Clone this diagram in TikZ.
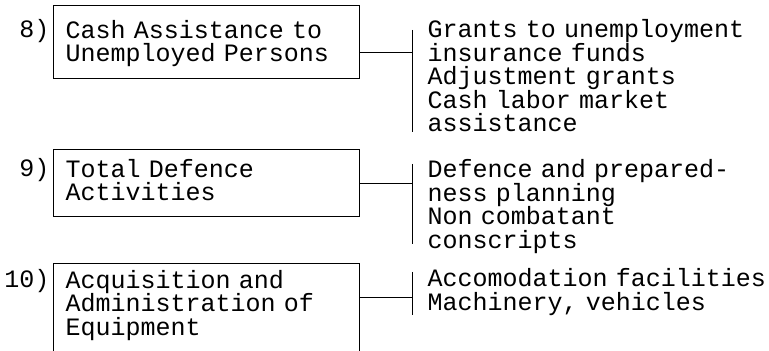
\documentclass[tikz,border=0pt]{standalone}
\usepackage{fontspec}
\setmonofont{Liberation Mono}[WordSpace={1,0,0}]
\usetikzlibrary{positioning,calc}

\begin{document}
\begin{tikzpicture}[x=0.5pt,y=-0.5pt,line width=0.5pt,
    every node/.style={font=\ttfamily\fontsize{12.5}{11.75}\selectfont},
    catbox/.style={draw,anchor=north west,align=left,text width=141pt,inner xsep=6pt,inner ysep=0pt},
    numlabel/.style={anchor=base east,inner sep=0pt},
    itemlist/.style={anchor=base west,align=left,text width=172pt,inner sep=0pt}]
  \clip (0,0) rectangle (769,351);
  % the three categories
  \node[catbox,text height=16.5pt,text depth=20.25pt] (b8) at (53,5) {Cash Assistance to\\Unemployed Persons};
  \node[catbox,text height=14pt,text depth=19.75pt] (b9) at (53,149) {Total Defence\\Activities};
  \node[catbox,text height=12.5pt,text depth=33.5pt] (b10) at (53,263) {Acquisition and\\Administration of\\Equipment};
  \node[numlabel] (n8) at (50,38) {8)};
  \node[numlabel] (n9) at (50,177) {9)};
  \node[numlabel] (n10) at (50,288) {10)};
  % what each one covers
  \node[itemlist] (l8) at (427,38) {Grants to unemployment\\insurance funds\\Adjustment grants\\Cash labor market\\assistance};
  \node[itemlist] (l9) at (427,178) {Defence and prepared-\\ness planning\\Non combatant\\conscripts};
  \node[itemlist] (l10) at (427,287) {Accomodation facilities\\Machinery, vehicles};
  % brackets
  \foreach \n/\ya/\yb/\ym in {8/30/132/53,9/164/244/184,10/272/315/298}
  {
    \coordinate (j\n) at (412,\ym);
    \draw (412,\ya) -- (412,\yb);
    \draw (b\n.east |- j\n) -- (j\n);
  }
\end{tikzpicture}
\end{document}
